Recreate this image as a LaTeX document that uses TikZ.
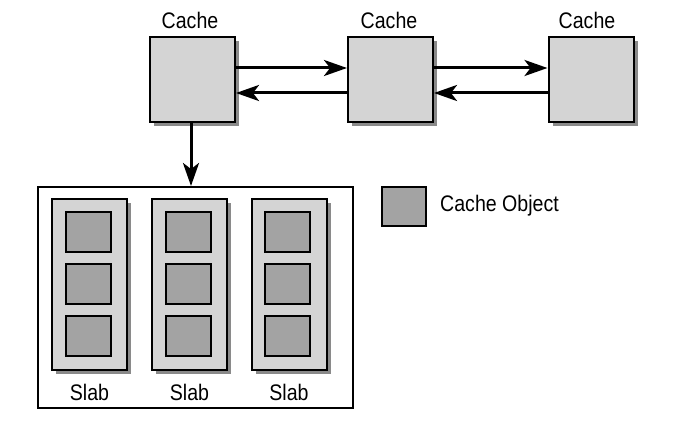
\documentclass[tikz,border=0pt]{standalone}
\usepackage{fontspec}
\setmainfont{Liberation Sans}[FakeStretch=0.87]
\usetikzlibrary{arrows.meta,shadows}

\definecolor{boxgray}{HTML}{D4D4D4}
\definecolor{objgray}{HTML}{A3A3A3}
\definecolor{shadegray}{HTML}{8A8A8A}

\tikzset{
  cachebox/.style={draw, line width=2pt, fill=boxgray,
    minimum width=85pt, minimum height=85pt, inner sep=0pt,
    general shadow={fill=shadegray, shadow xshift=4pt, shadow yshift=-4pt}},
  slabbox/.style={cachebox, minimum width=75pt, minimum height=171pt},
  objbox/.style={draw, line width=2pt, fill=objgray,
    minimum width=45pt, minimum height=40pt, inner sep=0pt},
  lbl/.style={font=\fontsize{22.5}{26}\selectfont, inner sep=0pt},
  link/.style={line width=3pt,
    -{Stealth[length=23pt, width=16pt, inset=6pt]}},
}

\begin{document}
\begin{tikzpicture}[x=1pt, y=-1pt]
  \useasboundingbox (0,0) rectangle (676,425);

  % Caches in a list
  \node[cachebox] (c1) at (192.5, 79.5) {};
  \node[cachebox] (c2) at (390.5, 79.5) {};
  \node[cachebox] (c3) at (591,   79.5) {};

  \node[lbl] (l1) at (190, 20) {Cache};
  \node[lbl] (l2) at (389, 20) {Cache};
  \node[lbl] (l3) at (587, 20) {Cache};

  \draw[link] ([yshift=11.5pt]c1.east) -- ([yshift=11.5pt]c2.west);
  \draw[link] ([yshift=-13.5pt]c2.west) -- ([yshift=-13.5pt]c1.east);
  \draw[link] ([yshift=11.5pt]c2.east) -- ([yshift=11.5pt]c3.west);
  \draw[link] ([yshift=-13.5pt]c3.west) -- ([yshift=-13.5pt]c2.east);

  % Slabs of the first cache
  \node[draw, line width=2pt, fill=white, minimum width=315pt,
    minimum height=221pt, inner sep=0pt] (pool) at (195.5, 297.5) {};

  \draw[link] ([xshift=-1.5pt]c1.south) -- ([xshift=-1.5pt]c1.south |- pool.north);

  \foreach \i/\x in {1/89.5, 2/189.5, 3/289} {
    \node[slabbox] (s\i) at (\x, 284.5) {};
    \foreach \j/\y in {1/232, 2/284, 3/336}
      \node[objbox] (o\i\j) at (\x-1.5, \y) {};
    \node[lbl] (n\i) at (\x, 392) {Slab};
  }

  % Key
  \node[objbox, minimum width=44pt, minimum height=39pt] (key) at (404, 206.5) {};
  \node[lbl, anchor=west] (keytext) at (440, 206) {Cache Object};

\end{tikzpicture}
\end{document}
